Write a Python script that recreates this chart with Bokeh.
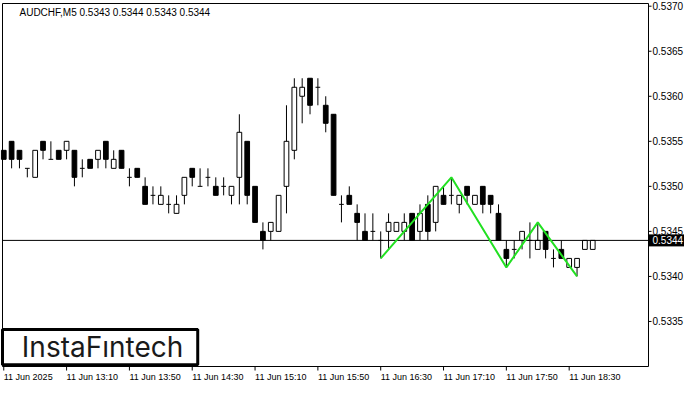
import math
from bokeh.plotting import figure
from bokeh.models import Range1d
from bokeh.core.properties import value
from bokeh.embed import file_html
from bokeh.resources import INLINE

# ---- data (AUDCHF M5, 11 Jun 2025, bars from 12:30) ----
opens = [0.5354, 0.5355, 0.5354, 0.5352, 0.5351, 0.5355, 0.5353, 0.5354, 0.5354, 0.5354,
         0.5352, 0.5353, 0.5353, 0.5355, 0.5352, 0.5354, 0.5351, 0.5352, 0.5350, 0.5349,
         0.5348, 0.5348, 0.5347, 0.5349, 0.5352, 0.5350, 0.5351, 0.5350, 0.5350, 0.5349,
         0.5351, 0.5355, 0.5350, 0.5345, 0.5345, 0.5345, 0.5350, 0.5354, 0.5360, 0.5362,
         0.5361, 0.5359, 0.5358, 0.5348, 0.5349, 0.5347, 0.5345, 0.5345, 0.5344, 0.5345,
         0.5345, 0.5345, 0.5347, 0.5345, 0.5348, 0.5346, 0.5349, 0.5349, 0.5348, 0.5350,
         0.5348, 0.5350, 0.5349, 0.5347, 0.5343, 0.5343, 0.5344, 0.5344, 0.5343, 0.5345,
         0.5342, 0.5343, 0.5341, 0.5341, 0.5343, 0.5343]
highs = [0.5354, 0.5355, 0.5354, 0.5352, 0.5354, 0.5355, 0.5355, 0.5354, 0.5355, 0.5354,
         0.5353, 0.5353, 0.5354, 0.5355, 0.5354, 0.5354, 0.5352, 0.5352, 0.5351, 0.5350,
         0.5350, 0.5349, 0.5349, 0.5351, 0.5352, 0.5352, 0.5352, 0.5351, 0.5351, 0.5350,
         0.5358, 0.5355, 0.5350, 0.5346, 0.5346, 0.5349, 0.5359, 0.5362, 0.5362, 0.5362,
         0.5362, 0.5360, 0.5358, 0.5349, 0.5350, 0.5348, 0.5347, 0.5347, 0.5345, 0.5347,
         0.5346, 0.5347, 0.5347, 0.5348, 0.5349, 0.5350, 0.5350, 0.5351, 0.5349, 0.5350,
         0.5349, 0.5350, 0.5349, 0.5348, 0.5344, 0.5344, 0.5345, 0.5346, 0.5346, 0.5345,
         0.5343, 0.5344, 0.5342, 0.5342, 0.5344, 0.5344]
lows = [0.5353, 0.5352, 0.5352, 0.5351, 0.5351, 0.5353, 0.5353, 0.5353, 0.5353, 0.5350,
        0.5351, 0.5352, 0.5352, 0.5352, 0.5352, 0.5352, 0.5350, 0.5351, 0.5348, 0.5348,
        0.5348, 0.5347, 0.5347, 0.5348, 0.5350, 0.5350, 0.5350, 0.5349, 0.5349, 0.5348,
        0.5348, 0.5348, 0.5346, 0.5343, 0.5344, 0.5345, 0.5347, 0.5353, 0.5357, 0.5358,
        0.5359, 0.5356, 0.5349, 0.5346, 0.5348, 0.5344, 0.5344, 0.5344, 0.5342, 0.5343,
        0.5345, 0.5344, 0.5344, 0.5344, 0.5344, 0.5345, 0.5348, 0.5348, 0.5347, 0.5348,
        0.5348, 0.5347, 0.5347, 0.5344, 0.5341, 0.5342, 0.5343, 0.5342, 0.5343, 0.5342,
        0.5341, 0.5342, 0.5341, 0.5340, 0.5343, 0.5343]
closes = [0.5353, 0.5353, 0.5353, 0.5352, 0.5354, 0.5354, 0.5353, 0.5353, 0.5355, 0.5351,
          0.5352, 0.5352, 0.5354, 0.5353, 0.5353, 0.5352, 0.5351, 0.5351, 0.5348, 0.5349,
          0.5349, 0.5348, 0.5348, 0.5351, 0.5351, 0.5350, 0.5351, 0.5349, 0.5350, 0.5350,
          0.5356, 0.5349, 0.5346, 0.5344, 0.5346, 0.5349, 0.5355, 0.5361, 0.5361, 0.5359,
          0.5361, 0.5357, 0.5349, 0.5348, 0.5348, 0.5346, 0.5344, 0.5345, 0.5344, 0.5346,
          0.5346, 0.5346, 0.5344, 0.5347, 0.5345, 0.5350, 0.5348, 0.5349, 0.5349, 0.5349,
          0.5349, 0.5348, 0.5348, 0.5344, 0.5342, 0.5343, 0.5345, 0.5344, 0.5344, 0.5343,
          0.5342, 0.5342, 0.5342, 0.5342, 0.5344, 0.5344]

time_tick_idx = [0, 8, 16, 24, 32, 40, 48, 56, 64, 72]
time_tick_labels = ["11 Jun 2025", "11 Jun 13:10", "11 Jun 13:50", "11 Jun 14:30",
                    "11 Jun 15:10", "11 Jun 15:50", "11 Jun 16:30", "11 Jun 17:10",
                    "11 Jun 17:50", "11 Jun 18:30"]
price_ticks = [0.5335, 0.5340, 0.5345, 0.5350, 0.5355, 0.5360, 0.5365, 0.5370]
pattern_idx = [48, 57, 64, 68, 73]
pattern_val = [0.5342, 0.5351, 0.5341, 0.5346, 0.5340]
last_price = 0.5344
title_text = "AUDCHF,M5  0.5343 0.5344 0.5343 0.5344"
brand = "InstaF\u0131ntech"

# ---- layout (canvas pixels) ----
W, H = 684, 384
CL, CR, CT, CB = 2, 648, 3, 366          # chart box edges in canvas px
XL, XR = -0.16, 82.1                      # chart box in bar units
Y0, Y1 = 0.53300, 0.53703                 # chart box in price
ppx = (CR - CL) / (XR - XL)
ppy = (CB - CT) / (Y1 - Y0)
x_rng = Range1d(XL - CL / ppx, XR + (W - CR) / ppx)
y_rng = Range1d(Y0 - (H - CB) / ppy, Y1 + CT / ppy)

FONT = value("Liberation Sans")

p = figure(width=W, height=H, output_backend="svg", toolbar_location=None,
           x_range=x_rng, y_range=y_rng,
           x_axis_location=None, y_axis_location=None,
           min_border=0, min_border_left=0, min_border_right=0,
           min_border_top=0, min_border_bottom=0)
p.background_fill_color = "white"
p.border_fill_color = "white"
p.outline_line_color = None
p.xgrid.visible = False
p.ygrid.visible = False

# chart box
p.quad(left=[XL], right=[XR], bottom=[Y0], top=[Y1], fill_color=None,
       line_color="black", line_width=1)

# ---- candles ----
idx = list(range(len(opens)))
p.segment(x0=idx, y0=lows, x1=idx, y1=highs, line_color="black", line_width=1)

bx, btop, bbot, bfill = [], [], [], []
dx, dy = [], []
for i, (o, c) in enumerate(zip(opens, closes)):
    if abs(o - c) < 1e-9:
        dx.append(i)
        dy.append(o)
    else:
        bx.append(i)
        btop.append(max(o, c))
        bbot.append(min(o, c))
        bfill.append("white" if c > o else "black")
p.vbar(x=bx, width=0.6, top=btop, bottom=bbot, fill_color=bfill, line_color="black", line_width=1)
p.segment(x0=[x - 0.3 for x in dx], y0=dy, x1=[x + 0.3 for x in dx], y1=dy,
          line_color="black", line_width=1)

# current price line
p.segment(x0=[XL], y0=[last_price], x1=[XR], y1=[last_price], line_color="black", line_width=1)

# pattern zigzag
p.line(pattern_idx, pattern_val, line_color="#22e022", line_width=2)

# ---- price axis (right) ----
p.ray(x=[XR] * len(price_ticks), y=price_ticks, length=3, length_units="screen",
      angle=0, line_color="black", line_width=1)
p.text(x=[XR] * len(price_ticks), y=price_ticks, text=["%.4f" % t for t in price_ticks],
       x_offset=4, text_align="left", text_baseline="middle",
       text_font=FONT, text_font_size=value("10px"), text_color="black")

# ---- time axis (bottom) ----
p.ray(x=time_tick_idx, y=[Y0] * len(time_tick_idx), length=4, length_units="screen",
      angle=-math.pi / 2, line_color="black", line_width=1)
p.text(x=time_tick_idx, y=[Y0] * len(time_tick_idx), text=time_tick_labels,
       x_offset=0, y_offset=5, text_align="left", text_baseline="top",
       text_font=FONT, text_font_size=value("9px"), text_color="black")

# ---- title ----
p.text(x=[XL], y=[Y1], text=[title_text], x_offset=17, y_offset=9,
       text_align="left", text_baseline="middle",
       text_font=FONT, text_font_size=value("10px"), text_color="black")

# ---- current price tag ----
p.rect(x=[XR + 19 / ppx], y=[last_price], width=37, height=11,
       width_units="screen", height_units="screen",
       fill_color="black", line_color="black")
p.text(x=[XR], y=[last_price], text=["%.4f" % last_price], x_offset=4,
       text_align="left", text_baseline="middle",
       text_font=FONT, text_font_size=value("10px"), text_color="white")

# ---- brand box ----
p.quad(left=[XL], right=[24.7], bottom=[0.53302], top=[0.53341],
       fill_color="white", line_color="black", line_width=3)
p.text(x=[2.3], y=[0.533215], text=[brand], text_align="left", text_baseline="middle",
       text_font=value("Inter"), text_font_size=value("28px"), text_color="#1a1a1a")

open("out.html", "w").write(file_html(p, INLINE))
